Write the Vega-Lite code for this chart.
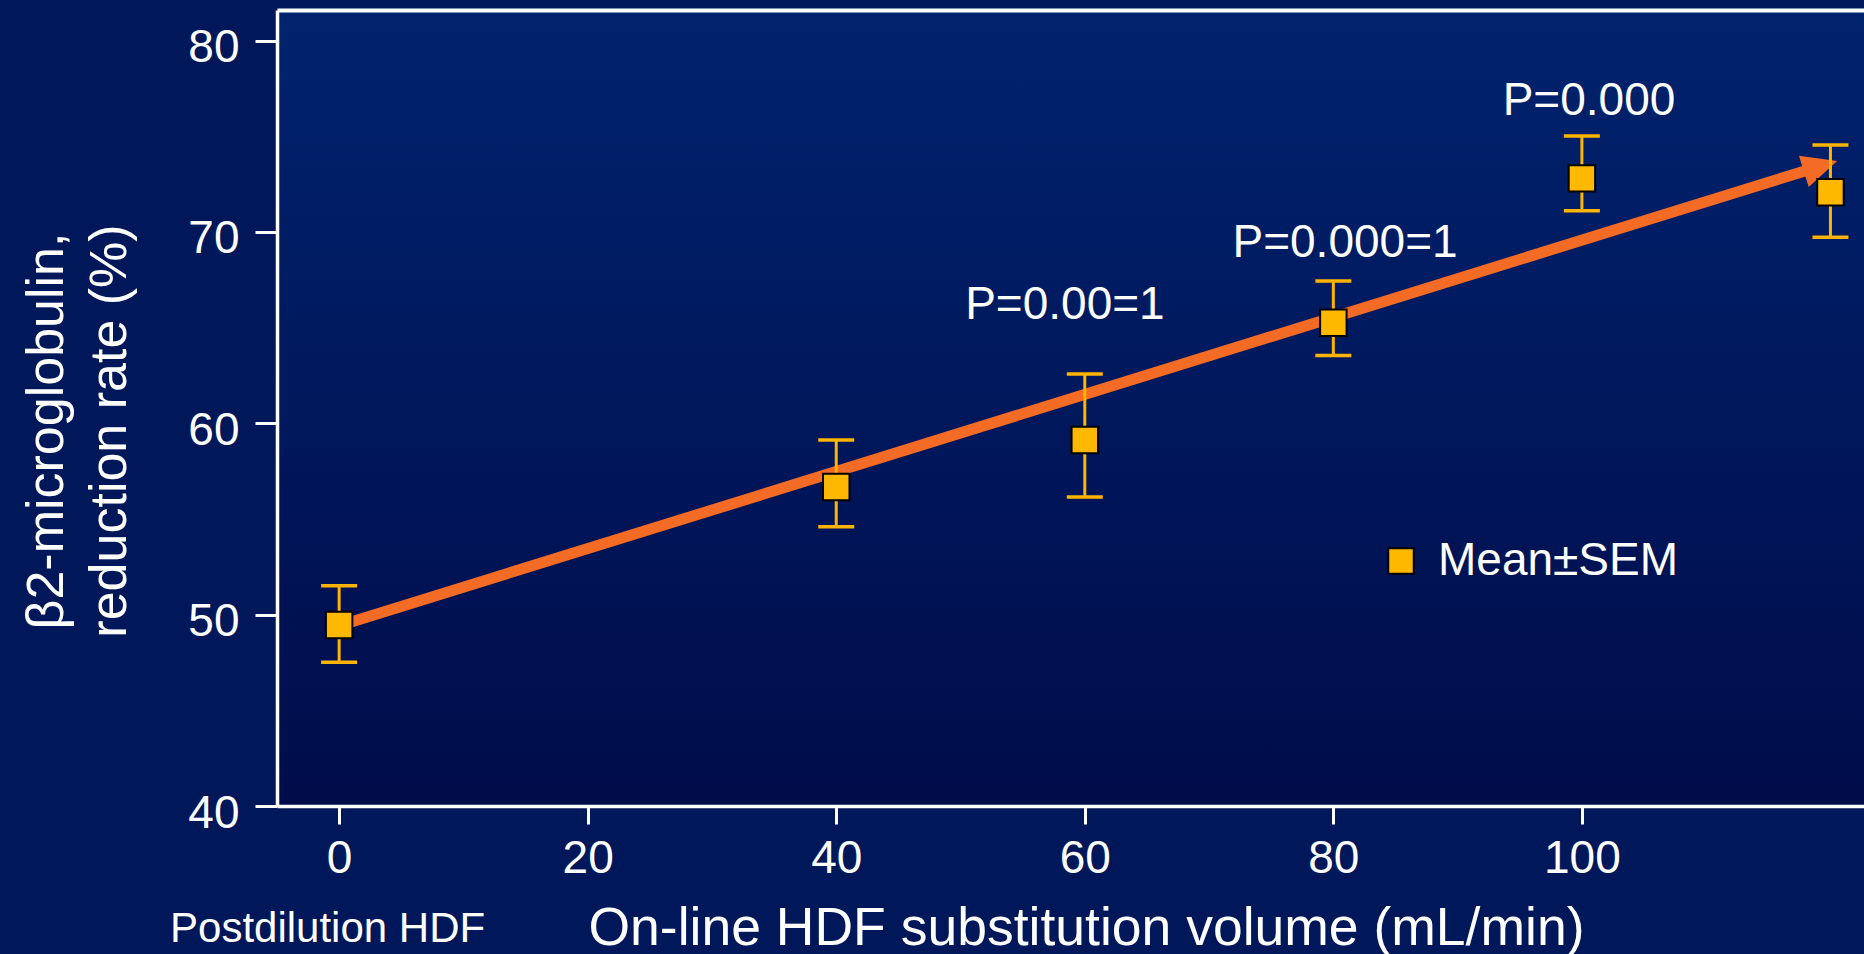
{
  "$schema": "https://vega.github.io/schema/vega-lite/v6.json",
  "width": 1587,
  "height": 796,
  "autosize": {"type": "none"},
  "padding": {"left": 277, "top": 10, "right": 0, "bottom": 148},
  "background": "#00175A",
  "config": {
    "view": {
      "stroke": null,
      "fill": {"gradient": "linear", "x1": 0, "y1": 0, "x2": 0, "y2": 1,
        "stops": [{"offset": 0, "color": "#00236E"}, {"offset": 1, "color": "#000C4A"}]}
    },
    "font": "Liberation Sans",
    "axis": {
      "domainColor": "white", "domainWidth": 3.5, "tickColor": "white", "tickWidth": 3,
      "labelColor": "white", "titleColor": "white", "labelFont": "Liberation Sans",
      "titleFont": "Liberation Sans", "grid": false, "labelFontWeight": "normal", "titleFontWeight": "normal"
    },
    "legend": {"padding": 0}
  },
  "datasets": {
    "points": [
      {"volume": 0, "mean": 49.46, "lo": 47.51, "hi": 51.51, "series": "Mean±SEM"},
      {"volume": 40, "mean": 56.67, "lo": 54.6, "hi": 59.13, "series": "Mean±SEM"},
      {"volume": 60, "mean": 59.13, "lo": 56.15, "hi": 62.58, "series": "Mean±SEM"},
      {"volume": 80, "mean": 65.26, "lo": 63.55, "hi": 67.44, "series": "Mean±SEM"},
      {"volume": 100, "mean": 72.8, "lo": 71.11, "hi": 75.02, "series": "Mean±SEM"},
      {"volume": 120, "mean": 72.07, "lo": 69.72, "hi": 74.54, "series": "Mean±SEM"}
    ],
    "trend": [
      {"volume": 0, "rate": 49.42},
      {"volume": 119.2, "rate": 73.44}
    ],
    "head": [
      {"volume": 119.2, "rate": 73.44}
    ],
    "notes": [
      {"volume": 58.4, "rate": 65.45, "label": "P=0.00=1"},
      {"volume": 80.94, "rate": 68.69, "label": "P=0.000=1"},
      {"volume": 100.57, "rate": 76.11, "label": "P=0.000"}
    ],
    "sub": [
      {"volume": -0.93, "rate": 32.89, "label": "Postdilution HDF"}
    ]
  },
  "layer": [
    {
      "data": {"name": "trend"},
      "mark": {"type": "line", "color": "#F36B24", "strokeWidth": 11, "strokeCap": "butt"},
      "encoding": {
        "x": {"field": "volume", "type": "quantitative",
          "scale": {"domain": [-5, 122.7], "nice": false, "zero": false},
          "axis": {"orient": "top", "labels": false, "ticks": false, "title": null, "domainWidth": 4}},
        "y": {"field": "rate", "type": "quantitative",
          "scale": {"domain": [40, 81.6], "nice": false, "zero": false},
          "axis": {"values": [40, 50, 60, 70, 80], "tickSize": 22, "labelPadding": 16, "labelFontSize": 46,
            "labelOffset": 7,
            "title": ["β2-microglobulin,", "reduction rate (%)"], "titleFontSize": 52, "titleLineHeight": 63,
            "titleAngle": 270, "titleX": -231, "titleY": 420.5, "titleAlign": "center", "titleBaseline": "middle"}}
      }
    },
    {
      "data": {"name": "head"},
      "mark": {"type": "point", "shape": "M0,-1L-0.94,1L0.94,1Z", "size": 1225, "angle": 72.7,
        "filled": true, "color": "#F36B24", "opacity": 1},
      "encoding": {
        "x": {"field": "volume", "type": "quantitative", "axis": null},
        "y": {"field": "rate", "type": "quantitative"}
      }
    },
    {
      "data": {"name": "points"},
      "mark": {"type": "rule", "color": "#FFB400", "strokeWidth": 3},
      "encoding": {
        "x": {"field": "volume", "type": "quantitative", "axis": null},
        "y": {"field": "lo", "type": "quantitative"},
        "y2": {"field": "hi"}
      }
    },
    {
      "data": {"name": "points"},
      "mark": {"type": "tick", "orient": "horizontal", "color": "#FFB400", "size": 36, "thickness": 3.5, "opacity": 1},
      "encoding": {
        "x": {"field": "volume", "type": "quantitative", "axis": null},
        "y": {"field": "lo", "type": "quantitative"}
      }
    },
    {
      "data": {"name": "points"},
      "mark": {"type": "tick", "orient": "horizontal", "color": "#FFB400", "size": 36, "thickness": 3.5, "opacity": 1},
      "encoding": {
        "x": {"field": "volume", "type": "quantitative", "axis": null},
        "y": {"field": "hi", "type": "quantitative"}
      }
    },
    {
      "data": {"name": "points"},
      "mark": {"type": "point", "shape": "square", "size": 700, "filled": true, "stroke": "black", "strokeWidth": 2, "opacity": 1},
      "encoding": {
        "x": {"field": "volume", "type": "quantitative",
          "axis": {"values": [0, 20, 40, 60, 80, 100], "tickSize": 18, "labelPadding": 12, "labelFontSize": 46,
            "title": "On-line HDF substitution volume (mL/min)", "titleFontSize": 53.5,
            "titleX": 809, "titleY": 138, "titleAlign": "center", "titleBaseline": "alphabetic"}},
        "y": {"field": "mean", "type": "quantitative"},
        "fill": {"field": "series", "type": "nominal", "scale": {"range": ["#FFB800"]},
          "legend": {"orient": "none", "legendX": 1101, "legendY": 528, "title": null,
            "symbolType": "square", "symbolSize": 650, "symbolStrokeColor": "black", "symbolStrokeWidth": 2,
            "symbolFillColor": "#FFB800", "symbolOpacity": 1, "labelLimit": 0,
            "labelFontSize": 46, "labelColor": "white", "labelFont": "Liberation Sans", "labelOffset": 14}}
      }
    },
    {
      "data": {"name": "notes"},
      "mark": {"type": "text", "color": "white", "fontSize": 46, "align": "center", "baseline": "alphabetic", "font": "Liberation Sans"},
      "encoding": {
        "x": {"field": "volume", "type": "quantitative", "axis": null},
        "y": {"field": "rate", "type": "quantitative"},
        "text": {"field": "label"}
      }
    },
    {
      "data": {"name": "sub"},
      "mark": {"type": "text", "color": "white", "fontSize": 42, "align": "center", "baseline": "alphabetic", "font": "Liberation Sans"},
      "encoding": {
        "x": {"field": "volume", "type": "quantitative", "axis": null},
        "y": {"field": "rate", "type": "quantitative"},
        "text": {"field": "label"}
      }
    }
  ],
  "resolve": {"axis": {"x": "independent"}}
}
